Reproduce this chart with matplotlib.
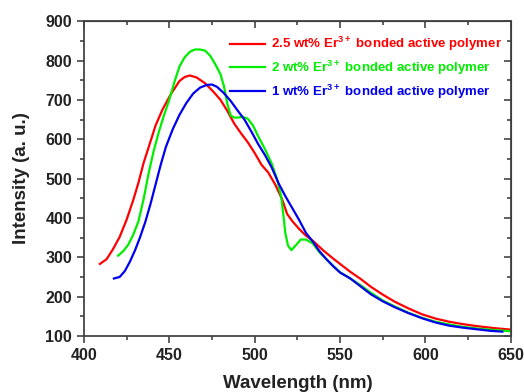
import matplotlib
matplotlib.use("Agg")
import matplotlib.pyplot as plt
from matplotlib.ticker import MultipleLocator

plt.rcParams['font.family'] = ['Liberation Sans', 'DejaVu Sans']
plt.rcParams['font.weight'] = 'bold'
plt.rcParams['mathtext.fontset'] = 'custom'
plt.rcParams['mathtext.rm'] = 'Liberation Sans:bold'
plt.rcParams['mathtext.bf'] = 'Liberation Sans:bold'

# 2.5 wt% (red)
wl_red = [409.4, 413.3, 417, 421, 425, 428.9, 432, 435, 438.7, 442, 446, 451, 456, 459,
          462, 466, 471, 476, 480, 484, 488, 492, 496, 500, 504, 508, 512, 516, 519,
          522, 526, 530, 534, 540, 545, 550, 556, 562, 568, 575, 582, 590, 598, 606,
          614, 622, 630, 640, 650]
int_red = [283, 295, 320, 352, 395, 445, 490, 540, 590, 635, 675, 715, 748, 758,
           762, 757, 742, 720, 700, 672, 640, 615, 592, 565, 535, 515, 485, 448, 410,
           392, 372, 355, 342, 318, 300, 283, 263, 245, 225, 205, 187, 170, 155, 144,
           136, 130, 125, 120, 116]

# 2 wt% (green)
wl_green = [420, 423, 426, 429, 432, 435, 438, 441, 444, 447, 450, 453, 456, 459, 462,
            465, 468, 471, 474, 477, 480, 482, 484, 486, 488, 490, 493, 496, 499, 502,
            506, 510, 513, 515.5, 517, 518, 519.5, 521.5, 524, 527, 530, 534, 538, 542,
            546, 550, 556, 562, 568, 575, 582, 590, 598, 606, 614, 622, 630, 640, 650]
int_green = [304, 315, 332, 358, 392, 448, 515, 572, 620, 662, 700, 745, 785, 808, 822,
             828, 828, 825, 812, 790, 765, 735, 690, 660, 655, 655, 657, 652, 635, 608,
             575, 538, 500, 455, 400, 360, 330, 318, 330, 345, 345, 335, 312, 295,
             278, 262, 246, 229, 210, 190, 175, 159, 146, 136, 129, 123, 119, 115, 112]

# 1 wt% (blue)
wl_blue = [417.6, 421, 424, 427, 430, 433, 436, 439, 442, 445, 448, 452, 456, 460, 464,
           468, 472, 475, 478, 482, 486, 490, 494, 498, 502, 506, 510, 514, 518, 522,
           526, 530, 534, 538, 542, 546, 550, 556, 562, 568, 575, 582, 590, 598, 606,
           614, 622, 630, 638, 645]
int_blue = [246, 250, 265, 289, 318, 352, 390, 435, 485, 535, 580, 625, 662, 692, 716,
            731, 738, 739, 733, 717, 697, 673, 650, 620, 588, 560, 528, 488, 455, 425,
            395, 362, 340, 315, 295, 277, 261, 246, 226, 206, 188, 173, 158, 145, 134,
            126, 121, 117, 113, 111]

labels = [r'2.5 wt% Er$^{3+}$ bonded active polymer',
          r'2 wt% Er$^{3+}$ bonded active polymer',
          r'1 wt% Er$^{3+}$ bonded active polymer']
colors = ['#ff0000', '#00ee00', '#0000ee']

fig = plt.figure(figsize=(5.24, 3.92), dpi=100)
ax = fig.add_axes([0.160, 0.143, 0.815, 0.803])

ax.plot(wl_red, int_red, color=colors[0], lw=1.6, label=labels[0])
ax.plot(wl_green, int_green, color=colors[1], lw=1.6, label=labels[1])
ax.plot(wl_blue, int_blue, color=colors[2], lw=1.6, label=labels[2])

ax.set_xlim(400, 650)
ax.set_ylim(100, 900)
ax.xaxis.set_major_locator(MultipleLocator(50))
ax.xaxis.set_minor_locator(MultipleLocator(25))
ax.yaxis.set_major_locator(MultipleLocator(100))
ax.yaxis.set_minor_locator(MultipleLocator(50))

for s in ax.spines.values():
    s.set_color('#444444')
    s.set_linewidth(1.3)

ax.tick_params(which='both', direction='out', colors='#444444', labelcolor='#222222',
               labelsize=11.5, width=1.2)
ax.tick_params(which='major', length=5)
ax.tick_params(which='minor', length=3)

# mirrored inward ticks on top and right
top = ax.secondary_xaxis('top')
top.xaxis.set_major_locator(MultipleLocator(50))
top.xaxis.set_minor_locator(MultipleLocator(25))
top.tick_params(which='both', direction='in', labeltop=False, colors='#444444', width=1.2)
top.tick_params(which='major', length=5)
top.tick_params(which='minor', length=3)
right = ax.secondary_yaxis('right')
right.yaxis.set_major_locator(MultipleLocator(100))
right.yaxis.set_minor_locator(MultipleLocator(50))
right.tick_params(which='both', direction='in', labelright=False, colors='#444444', width=1.2)
right.tick_params(which='major', length=5)
right.tick_params(which='minor', length=3)

ax.set_xlabel('Wavelength (nm)', fontsize=13.5, fontweight='bold', color='#222222', labelpad=9)
ax.set_ylabel('Intensity (a. u.)', fontsize=13.5, fontweight='bold', color='#222222', labelpad=11)

leg = ax.legend(loc='upper right', frameon=False, fontsize=9.5, handlelength=2.7,
                handletextpad=0.4, labelspacing=0.42, borderaxespad=0.3,
                bbox_to_anchor=(1.0, 0.985))
for t, c in zip(leg.get_texts(), colors):
    t.set_color(c)
    t.set_fontweight('bold')

fig.savefig('out.png', dpi=100)
